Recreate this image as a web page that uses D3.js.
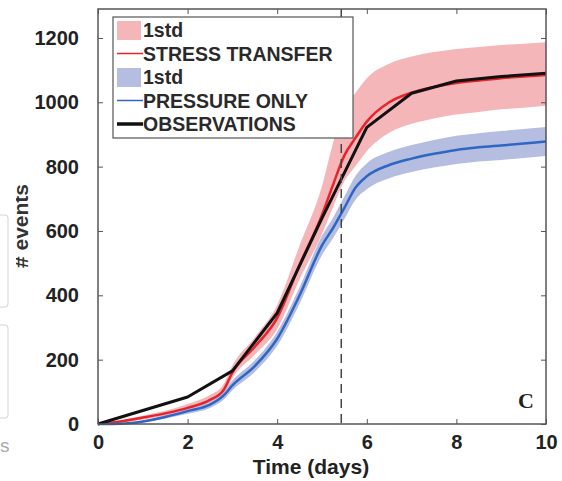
<!DOCTYPE html>
<html>
<head>
<meta charset="utf-8">
<script src="https://cdn.jsdelivr.net/npm/d3@7"></script>
<style>
    body { margin: 0; background: #fff; }
    svg { display: block; font-family: "Liberation Sans", Arial, sans-serif; }
</style>
</head>
<body>
<svg id="chart" width="562" height="481"></svg>
<script>
// sample times (days) for the two model curves
let modelDays = [0, 0.5, 1, 1.5, 2, 2.5, 2.8, 3, 3.5, 4, 4.5, 5, 5.25, 5.5, 5.75, 6, 6.5, 7, 7.5, 8, 8.5, 9, 9.5, 10];

// stress transfer model, mean and the 1std band (offset above / below the mean)
let stressMean  = [0, 8, 20, 33, 50, 75, 105, 160, 240, 330, 495, 650, 745, 835, 890, 940, 1000, 1030, 1048, 1060, 1068, 1075, 1080, 1085];
let stressUpper = [0, 4, 6, 8, 12, 15, 18, 22, 30, 40, 60, 90, 130, 150, 140, 135, 120, 112, 108, 106, 104, 103, 102, 102];
let stressLower = [0, 4, 6, 8, 10, 12, 15, 18, 25, 35, 45, 60, 70, 80, 88, 92, 95, 97, 98, 98, 98, 97, 97, 96];

// pressure only model, mean and 1std
let pressureMean = [0, 1, 8, 22, 40, 60, 88, 120, 180, 265, 400, 555, 610, 672, 735, 770, 805, 825, 840, 852, 860, 866, 872, 878];
let pressureStd  = [0, 1, 3, 5, 8, 10, 13, 15, 18, 22, 26, 30, 32, 35, 37, 40, 41, 42, 43, 44, 44, 45, 45, 45];

// observed cumulative event counts, one per day
let obsDays   = [0, 1, 2, 3, 4, 5, 6, 7, 8, 9, 10];
let obsEvents = [0, 42, 84, 165, 345, 640, 922, 1028, 1066, 1080, 1090];

// time of the vertical dashed marker
let markerDay = 5.43;

let xTicks = [0, 2, 4, 6, 8, 10];
let yTicks = [0, 200, 400, 600, 800, 1000, 1200];

let legendItems = [
    { label: '1std', kind: 'patch', color: '#f5b6b9' },
    { label: 'STRESS TRANSFER', kind: 'line', color: '#e8232c', width: 1.5 },
    { label: '1std', kind: 'patch', color: '#b5bde0' },
    { label: 'PRESSURE ONLY', kind: 'line', color: '#2e66c4', width: 1.5 },
    { label: 'OBSERVATIONS', kind: 'line', color: '#111', width: 3.5 },
];

let svg = d3.select('#chart');

// plot box, in screen pixels
let box = { left: 98, right: 546, top: 9, bottom: 424 };

let x = d3.scaleLinear().domain([0, 10]).range([box.left, box.right]);
let y = d3.scaleLinear().domain([0, 1290]).range([box.bottom, box.top]);

// the page artefacts on the left edge of the screenshot
let artefacts = svg.append('g');
artefacts.selectAll('rect')
    .data([[215, 307], [325, 418]])
    .join('rect')
        .attr('x', -10).attr('y', d => d[0])
        .attr('width', 18).attr('height', d => d[1] - d[0])
        .attr('rx', 3)
        .attr('fill', 'none').attr('stroke', '#d4d4d4');
artefacts.append('text')
    .attr('x', 0).attr('y', 452)
    .attr('font-size', 19).attr('fill', '#aaa')
    .text('s');

// y label is cut at the left by the page, clip it in screen space
svg.append('clipPath').attr('id', 'ylabclip')
    .append('rect').attr('x', 16).attr('y', 0).attr('width', 40).attr('height', 481);
svg.append('g')
    .attr('clip-path', 'url(#ylabclip)')
  .append('text')
    .attr('transform', 'translate(28,226) rotate(-90)')
    .attr('text-anchor', 'middle')
    .attr('font-size', 21).attr('font-weight', 'bold').attr('fill', '#333')
    .text('# events');

let plot = svg.append('g');

// bands first so that the lines sit on top
let stressBand = d3.area()
    .x((d, i) => x(modelDays[i]))
    .y0((d, i) => y(d - stressLower[i]))
    .y1((d, i) => y(d + stressUpper[i]))
    .curve(d3.curveMonotoneX);
let pressureBand = d3.area()
    .x((d, i) => x(modelDays[i]))
    .y0((d, i) => y(d - pressureStd[i]))
    .y1((d, i) => y(d + pressureStd[i]))
    .curve(d3.curveMonotoneX);

plot.append('path').datum(stressMean)
    .attr('d', stressBand).attr('fill', legendItems[0].color);
plot.append('path').datum(pressureMean)
    .attr('d', pressureBand).attr('fill', legendItems[2].color);

let modelLine = d3.line()
    .x((d, i) => x(modelDays[i]))
    .y(d => y(d))
    .curve(d3.curveMonotoneX);

plot.append('path').datum(stressMean)
    .attr('d', modelLine)
    .attr('fill', 'none').attr('stroke', '#e8232c').attr('stroke-width', 2.5);
plot.append('path').datum(pressureMean)
    .attr('d', modelLine)
    .attr('fill', 'none').attr('stroke', '#2e66c4').attr('stroke-width', 2.5);

let obsLine = d3.line()
    .x((d, i) => x(obsDays[i]))
    .y(d => y(d));
plot.append('path').datum(obsEvents)
    .attr('d', obsLine)
    .attr('fill', 'none').attr('stroke', '#111').attr('stroke-width', 3)
    .attr('stroke-linejoin', 'round');

// dashed marker across the whole box
plot.append('line')
    .attr('x1', x(markerDay)).attr('x2', x(markerDay))
    .attr('y1', box.top).attr('y2', box.bottom)
    .attr('stroke', '#444').attr('stroke-width', 1.5)
    .attr('stroke-dasharray', '9,6');

// axes: matlab style, ticks inward on all four sides
function styleAxis(g) {
    g.select('.domain').remove();
    g.selectAll('.tick line').attr('stroke', '#555').attr('stroke-width', 1);
    g.selectAll('.tick text')
        .attr('font-size', 20).attr('font-weight', 'bold').attr('fill', '#222')
        .attr('font-family', '"Liberation Sans", Arial, sans-serif');
}

svg.append('g')
    .attr('transform', `translate(0,${box.bottom})`)
    .call(d3.axisBottom(x).tickValues(xTicks).tickSize(-5).tickPadding(11).tickFormat(d3.format('d')))
    .call(styleAxis);
svg.append('g')
    .attr('transform', `translate(0,${box.top})`)
    .call(d3.axisTop(x).tickValues(xTicks).tickSize(-5).tickFormat(''))
    .call(styleAxis);
svg.append('g')
    .attr('transform', `translate(${box.left},0)`)
    .call(d3.axisLeft(y).tickValues(yTicks).tickSize(-5).tickPadding(19).tickFormat(d3.format('d')))
    .call(styleAxis);
svg.append('g')
    .attr('transform', `translate(${box.right},0)`)
    .call(d3.axisRight(y).tickValues(yTicks).tickSize(-5).tickFormat(''))
    .call(styleAxis);

// frame
svg.append('rect')
    .attr('x', box.left).attr('y', box.top)
    .attr('width', box.right - box.left).attr('height', box.bottom - box.top)
    .attr('fill', 'none').attr('stroke', '#555').attr('stroke-width', 1.5);

svg.append('text')
    .attr('x', 311).attr('y', 474)
    .attr('text-anchor', 'middle')
    .attr('font-size', 21).attr('font-weight', 'bold').attr('fill', '#222')
    .text('Time (days)');

// panel letter, serif like the original
svg.append('text')
    .attr('x', 526).attr('y', 408)
    .attr('text-anchor', 'middle')
    .attr('font-family', '"Liberation Serif", "DejaVu Serif", serif')
    .attr('font-size', 22).attr('font-weight', 'bold').attr('fill', '#222')
    .text('C');

// legend box over the plot
let legend = svg.append('g').attr('transform', 'translate(113,17)');
legend.append('rect')
    .attr('width', 240).attr('height', 121)
    .attr('fill', '#fff').attr('stroke', '#555').attr('stroke-width', 1.2);

let rows = legend.selectAll('g.row')
    .data(legendItems)
    .join('g')
        .attr('class', 'row')
        .attr('transform', (d, i) => `translate(4,${13 + i * 23.5})`);

rows.filter(d => d.kind === 'patch').append('rect')
    .attr('x', 0).attr('y', -9).attr('width', 24).attr('height', 19)
    .attr('fill', d => d.color);
rows.filter(d => d.kind === 'line').append('line')
    .attr('x1', 0).attr('x2', 26).attr('y1', 0).attr('y2', 0)
    .attr('stroke', d => d.color).attr('stroke-width', d => d.width);
rows.append('text')
    .attr('x', 26).attr('y', 7)
    .attr('font-size', 19.5).attr('font-weight', 'bold').attr('fill', '#2a2a2a')
    .text(d => d.label);
</script>
</body>
</html>
